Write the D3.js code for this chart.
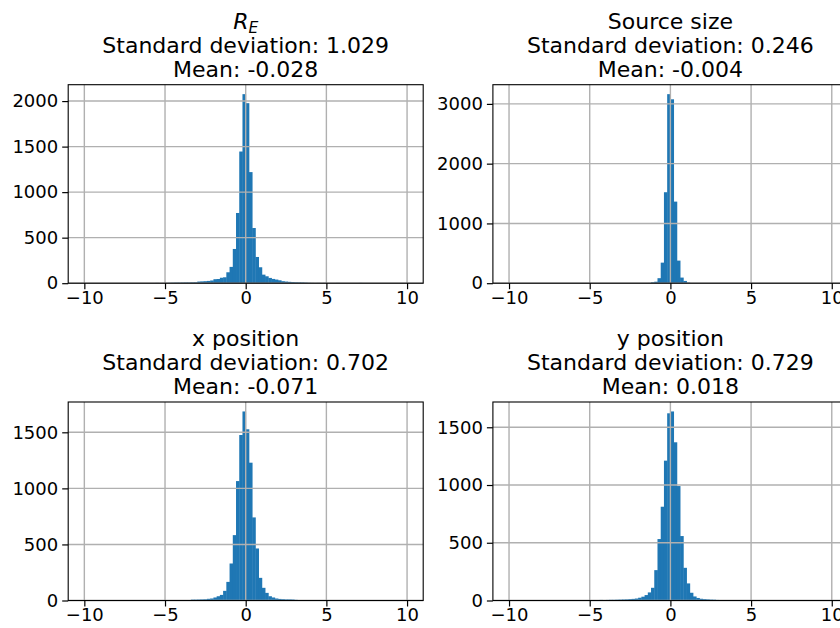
<!DOCTYPE html>
<html>
<head>
<meta charset="utf-8">
<script src="https://cdn.jsdelivr.net/npm/d3@7"></script>
<style>
    body { margin: 0; background: #fff; }
    svg { display: block; font-family: "DejaVu Sans", sans-serif; }
</style>
</head>
<body>
<div id="chart"></div>
<script>
// histogram: 100 bins from -10 to 10 (bin k covers [-10 + 0.2k, -10 + 0.2(k+1)])
const binStart = -10;
const binWidth = 0.2;

function bins(entries) {
    // entries: {binIndex: count}, every other bin is empty
    let out = new Array(100).fill(0);
    Object.keys(entries).forEach(k => { out[+k] = entries[k]; });
    return out;
}

const countsRE = bins({
    22: 3, 24: 2, 25: 3, 26: 4, 27: 5, 28: 6, 29: 6, 30: 7, 31: 8, 32: 8, 33: 9, 34: 10,
    35: 18, 36: 20, 37: 22, 38: 25, 39: 30, 40: 44, 41: 46, 42: 60, 43: 65,
    44: 120, 45: 179, 46: 376, 47: 771, 48: 1446, 49: 2076, 50: 1977, 51: 1220,
    52: 606, 53: 288, 54: 175, 55: 94, 56: 76, 57: 58, 58: 47, 59: 40, 60: 32,
    61: 22, 62: 18, 63: 15, 64: 12, 65: 10, 66: 9, 67: 8, 68: 6, 69: 4, 70: 3,
    72: 3, 73: 2, 74: 3, 75: 2, 77: 1, 78: 3, 85: 3
});

const countsSize = bins({
    43: 4, 44: 15, 45: 25, 46: 84, 47: 344, 48: 1522, 49: 3163, 50: 3077,
    51: 1365, 52: 378, 53: 94, 54: 38, 55: 10
});

const countsX = bins({
    26: 3, 27: 4, 29: 3, 33: 8, 34: 8, 35: 9, 36: 10, 37: 11, 38: 15,
    39: 18, 40: 27, 41: 38, 42: 50, 43: 86, 44: 166, 45: 330, 46: 583,
    47: 1065, 48: 1476, 49: 1686, 50: 1527, 51: 1229, 52: 741, 53: 464,
    54: 202, 55: 113, 56: 68, 57: 38, 58: 27, 59: 18, 60: 14, 61: 12,
    62: 10, 63: 10, 64: 9, 65: 6
});

const countsY = bins({
    26: 3, 27: 4, 28: 5, 29: 3, 30: 5, 31: 6, 32: 6, 33: 7, 34: 8, 35: 9,
    36: 10, 37: 12, 38: 14, 39: 17, 40: 24, 41: 33, 42: 47, 43: 70, 44: 110,
    45: 263, 46: 532, 47: 812, 48: 1211, 49: 1621, 50: 1637, 51: 1370,
    52: 991, 53: 558, 54: 283, 55: 148, 56: 67, 57: 35, 58: 22, 59: 15,
    60: 12, 61: 10, 62: 8, 63: 7, 64: 5, 65: 4, 66: 3, 67: 2
});

const xTicks = [-10, -5, 0, 5, 10];
const yTicksRE = [0, 500, 1000, 1500, 2000];
const yTicksSize = [0, 1000, 2000, 3000];
const yTicksX = [0, 500, 1000, 1500];
const yTicksY = [0, 500, 1000, 1500];

const titleNames = ['R_E', 'Source size', 'x position', 'y position'];
const stdDevs = ['1.029', '0.246', '0.702', '0.729'];
const means = ['-0.028', '-0.004', '-0.071', '0.018'];

const width = 840;
const height = 628;

const svg = d3.select('#chart')
    .append('svg')
    .attr('width', width)
    .attr('height', height);

function drawPanel(i, counts, yTicks, left, top) {
    let w = 355;
    let h = 198.5;
    let barColor = '#1f77b4';

    let x = d3.scaleLinear()
        .domain([-11, 11])
        .range([left, left + w]);

    let y = d3.scaleLinear()
        .domain([0, d3.max(counts) * 1.05])
        .range([top + h, top]);

    let g = svg.append('g');

    // bars (slight overlap to hide antialiasing seams)
    g.append('g')
        .selectAll('rect')
        .data(counts)
        .join('rect')
        .attr('fill', barColor)
        .attr('x', (d, k) => x(binStart + k * binWidth))
        .attr('width', (d, k) => x(binStart + (k + 1) * binWidth) - x(binStart + k * binWidth) + 0.4)
        .attr('y', d => y(d))
        .attr('height', d => y(0) - y(d));

    // grid on top of bars (matplotlib default zorder)
    g.append('g')
        .selectAll('line')
        .data(xTicks)
        .join('line')
        .attr('x1', d => x(d)).attr('x2', d => x(d))
        .attr('y1', top).attr('y2', top + h)
        .attr('stroke', '#b0b0b0')
        .attr('stroke-width', 1.4);

    g.append('g')
        .selectAll('line')
        .data(yTicks)
        .join('line')
        .attr('x1', left).attr('x2', left + w)
        .attr('y1', d => y(d)).attr('y2', d => y(d))
        .attr('stroke', '#b0b0b0')
        .attr('stroke-width', 1.4);

    // axes
    let xAxis = g.append('g')
        .attr('transform', `translate(0,${top + h})`)
        .call(d3.axisBottom(x).tickValues(xTicks).tickSize(6).tickPadding(2).tickFormat(d3.format('d')));

    let yAxis = g.append('g')
        .attr('transform', `translate(${left},0)`)
        .call(d3.axisLeft(y).tickValues(yTicks).tickSize(6).tickPadding(4).tickFormat(d3.format('d')));

    [xAxis, yAxis].forEach(a => {
        a.select('.domain').remove();
        a.selectAll('line').attr('stroke', '#000').attr('stroke-width', 1.2);
        a.selectAll('text')
            .attr('fill', '#000')
            .style('font-family', '"DejaVu Sans", sans-serif')
            .style('font-size', '18px');
    });

    // spines
    g.append('rect')
        .attr('x', left).attr('y', top)
        .attr('width', w).attr('height', h)
        .attr('fill', 'none')
        .attr('stroke', '#000')
        .attr('stroke-width', 1.1);

    // title, three lines
    let cx = x(0);
    let t = g.append('text')
        .attr('text-anchor', 'middle')
        .attr('fill', '#000')
        .style('font-size', '22px');

    let line1 = t.append('tspan').attr('x', cx).attr('y', top - 56);
    if (titleNames[i] === 'R_E') {
        line1.append('tspan').style('font-style', 'italic').text('R');
        line1.append('tspan').style('font-style', 'italic')
            .style('font-size', '15.5px').attr('dy', 4).text('E');
    } else {
        line1.text(titleNames[i]);
    }
    t.append('tspan').attr('x', cx).attr('y', top - 32)
        .text('Standard deviation: ' + stdDevs[i]);
    t.append('tspan').attr('x', cx).attr('y', top - 8)
        .text('Mean: ' + means[i]);
}

drawPanel(0, countsRE, yTicksRE, 68.2, 84.7);
drawPanel(1, countsSize, yTicksSize, 492.9, 84.7);
drawPanel(2, countsX, yTicksX, 68.2, 402);
drawPanel(3, countsY, yTicksY, 492.9, 402);
</script>
</body>
</html>
